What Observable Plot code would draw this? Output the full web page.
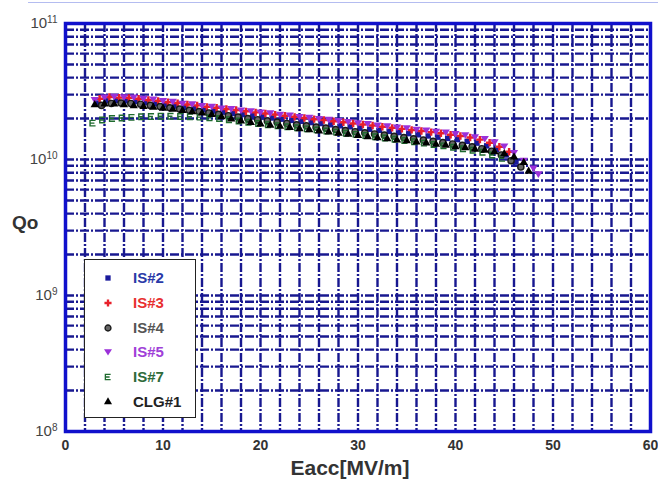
<!DOCTYPE html>
<html><head><meta charset="utf-8">
<script src="https://cdn.jsdelivr.net/npm/d3@7"></script>
<script src="https://cdn.jsdelivr.net/npm/@observablehq/plot@0.6"></script>
<style>
html,body{margin:0;padding:0;background:#fff;}
#wrap{position:relative;width:658px;height:487px;overflow:hidden;font-family:"Liberation Sans",Arial,sans-serif;}
#topline{position:absolute;left:28px;top:2px;width:630px;height:1px;background:#b4bcf0;}
#ytitle{position:absolute;left:12px;top:212px;font-weight:bold;font-size:19px;color:#333;}
#xtitle{position:absolute;left:0;width:700px;text-align:center;top:456px;font-weight:bold;font-size:21px;color:#333;}
#legend{position:absolute;left:84px;top:259px;width:112px;height:159px;background:#fff;border:1.5px solid #222;box-sizing:border-box;}
.row{position:absolute;left:0;height:20px;display:flex;align-items:center;}
.row svg{position:absolute;left:16px;top:3px;}
.row span{position:absolute;left:48px;top:1px;font-weight:bold;font-size:15px;white-space:nowrap;}
</style></head><body><div id="wrap"><div id="topline"></div></div>
<script>
// axes / ticks
const xTicks = [0, 10, 20, 30, 40, 50, 60];
const xGrid = [2, 4, 6, 8, 10, 12, 14, 16, 18, 20, 22, 24, 26, 28, 30, 32, 34, 36, 38, 40, 42, 44, 46, 48, 50, 52, 54, 56, 58];
const yTicks = [1e8, 1e9, 1e10, 1e11];
const yDecades = [1e8, 1e9, 1e10];
const yMinor = [1, 2, 3, 4, 5, 6, 7, 8, 9];

// series (Q in units of 1e10)
const seriesNames = ["IS#2", "IS#3", "IS#4", "IS#5", "IS#7", "CLG#1"];
const seriesColors = ["#1a1a9c", "#e8202a", "#3a3a3a", "#9b30d9", "#1f6b2f", "#000000"];
const legendColors = ["#2a3aa8", "#e83030", "#555555", "#a040d8", "#2e6b3a", "#222222"];

const is2E = [3.2,4.2,5.2,6.2,7.2,8.2,9.2,10.2,11.2,12.2,13.2,14.2,15.2,16.2,17.2,18.2,19.2,20.2,21.2,22.2,23.2,24.2,25.2,26.2,27.2,28.2,29.2,30.2,31.2,32.2,33.2,34.2,35.2,36.2,37.2,38.2,39.2,40.2,41.2,42.2,43.2,44.2,45.2,46.2];
const is2Q = [2.6,2.7,2.72,2.7,2.67,2.62,2.57,2.52,2.47,2.42,2.37,2.32,2.27,2.23,2.18,2.14,2.1,2.06,2.02,1.98,1.94,1.91,1.87,1.84,1.8,1.77,1.74,1.7,1.67,1.64,1.61,1.58,1.55,1.52,1.49,1.46,1.43,1.4,1.36,1.32,1.26,1.18,1.08,0.96];

const is3E = [3.5,4.5,5.5,6.5,7.5,8.5,9.5,10.5,11.5,12.5,13.5,14.5,15.5,16.5,17.5,18.5,19.5,20.5,21.5,22.5,23.5,24.5,25.5,26.5,27.5,28.5,29.5,30.5,31.5,32.5,33.5,34.5,35.5,36.5,37.5,38.5,39.5,40.5,41.5,42.5,43.5,44.5,45.5];
const is3Q = [2.8,2.88,2.85,2.84,2.8,2.74,2.7,2.64,2.6,2.54,2.5,2.44,2.4,2.35,2.31,2.26,2.22,2.18,2.14,2.1,2.06,2.02,1.98,1.95,1.91,1.88,1.84,1.81,1.78,1.74,1.71,1.68,1.65,1.62,1.59,1.56,1.52,1.49,1.45,1.4,1.33,1.24,1.14];

const is4E = [3.7,4.7,5.7,6.7,7.7,8.7,9.7,10.7,11.7,12.7,13.7,14.7,15.7,16.7,17.7,18.7,19.7,20.7,21.7,22.7,23.7,24.7,25.7,26.7,27.7,28.7,29.7,30.7,31.7,32.7,33.7,34.7,35.7,36.7,37.7,38.7,39.7,40.7,41.7,42.7,43.7,44.7,45.7,46.7];
const is4Q = [2.5,2.58,2.6,2.58,2.55,2.5,2.45,2.4,2.35,2.3,2.25,2.2,2.15,2.1,2.05,2.0,1.96,1.92,1.88,1.84,1.8,1.77,1.73,1.7,1.66,1.63,1.6,1.57,1.54,1.51,1.48,1.45,1.42,1.39,1.36,1.33,1.3,1.27,1.24,1.2,1.15,1.08,0.98,0.88];

const is5E = [3,4,5,6,7,8,9,10,11,12,13,14,15,16,17,18,19,20,21,22,23,24,25,26,27,28,29,30,31,32,33,34,35,36,37,38,39,40,41,42,43,44,45,46,47,48,48.5];
const is5Q = [2.74,2.86,2.9,2.87,2.86,2.8,2.77,2.7,2.66,2.58,2.55,2.48,2.45,2.38,2.36,2.3,2.27,2.22,2.19,2.14,2.11,2.06,2.03,1.99,1.96,1.92,1.89,1.85,1.83,1.78,1.76,1.72,1.7,1.66,1.64,1.6,1.58,1.54,1.51,1.46,1.42,1.34,1.25,1.12,0.98,0.86,0.78];

const is7E = [2.8,3.8,4.8,5.8,6.8,7.8,8.8,9.8,10.8,11.8,12.8,13.8,14.8,15.8,16.8,17.8,18.8,19.8,20.8,21.8,22.8,23.8,24.8,25.8,26.8,27.8,28.8,29.8,30.8,31.8,32.8,33.8,34.8,35.8,36.8,37.8,38.8,39.8,40.8,41.8,42.8,43.8,44.8];
const is7Q = [1.85,1.95,2.0,2.02,2.04,2.06,2.07,2.08,2.08,2.07,2.06,2.05,2.03,2.0,1.96,1.92,1.88,1.84,1.8,1.77,1.74,1.71,1.68,1.65,1.62,1.59,1.56,1.53,1.5,1.47,1.44,1.41,1.38,1.35,1.32,1.29,1.26,1.23,1.2,1.17,1.13,1.08,1.02];

const clgE = [3,4,5,6,7,8,9,10,11,12,13,14,15,16,17,18,19,20,21,22,23,24,25,26,27,28,29,30,31,32,33,34,35,36,37,38,39,40,41,42,43,44,45,46,47,47.5];
const clgQ = [2.52,2.56,2.55,2.52,2.48,2.45,2.42,2.38,2.34,2.29,2.24,2.19,2.14,2.06,1.98,1.92,1.87,1.82,1.78,1.75,1.72,1.68,1.65,1.62,1.59,1.56,1.53,1.5,1.47,1.44,1.42,1.39,1.37,1.34,1.32,1.29,1.27,1.24,1.22,1.19,1.17,1.14,1.1,1.04,0.95,0.82];

// custom symbols
const triDown = {draw(ctx, size) {
  const s = Math.sqrt(size) * 0.75;
  ctx.moveTo(-s, -s * 0.7); ctx.lineTo(s, -s * 0.7); ctx.lineTo(0, s * 0.9); ctx.closePath();
}};
const flag = {draw(ctx, size) {
  const s = Math.sqrt(size) * 0.5;
  ctx.moveTo(s, -s); ctx.lineTo(-s, -s); ctx.lineTo(-s, s); ctx.lineTo(s, s);
  ctx.moveTo(-s, 0); ctx.lineTo(s * 0.6, 0);
}};
const namedSymbols = {square: d3.symbolSquare, cross: d3.symbolCross, circle: d3.symbolCircle, triangle: d3.symbolTriangle};

const seriesE = [is2E, is3E, is4E, is5E, is7E, clgE];
const seriesQ = [is2Q, is3Q, is4Q, is5Q, is7Q, clgQ];
const symbols = ["square", "cross", "circle", triDown, flag, "triangle"];
const fills = [seriesColors[0], seriesColors[1], "#666", seriesColors[3], "none", seriesColors[5]];
const strokes = ["none", "none", "#1a1a1a", "none", seriesColors[4], "none"];

const tables = seriesE.map((E, i) => E.map((e, j) => ({E: e, Q: seriesQ[i][j] * 1e10})));

const gridColor = "#181890";
const yGrid = yDecades.flatMap(d => yMinor.map(m => d * m));

const marks = [
  Plot.ruleX(xGrid, {stroke: gridColor, strokeWidth: 2.4, strokeDasharray: "9,2,2,2"}),
  Plot.ruleY(yGrid, {stroke: gridColor, strokeWidth: 2.4, strokeDasharray: "9,2,2,2"}),
];
tables.forEach((t, i) => {
  marks.push(Plot.dot(t, {x: "E", y: "Q", symbol: symbols[i], r: 3.1,
    fill: fills[i], stroke: strokes[i], strokeWidth: strokes[i] === "none" ? 0 : 1.4}));
});
marks.push(Plot.frame({stroke: "#1010cc", strokeWidth: 3.5}));
marks.push(Plot.axisX({ticks: xTicks, tickSize: 0, tickPadding: 9, fontSize: 14, fontWeight: "bold", fill: "#333", label: null, tickFormat: d => String(d)}));
marks.push(Plot.axisY({ticks: yTicks, tickSize: 0, tickPadding: 8, fontSize: 15, fill: "#444", label: null, tickFormat: d => String(Math.round(Math.log10(d)))}));

const plot = Plot.plot({
  width: 658, height: 487,
  marginLeft: 65, marginRight: 8, marginTop: 23, marginBottom: 56,
  style: {background: "transparent", fontFamily: "Liberation Sans, Arial, sans-serif"},
  x: {domain: [0, 60]},
  y: {type: "log", domain: [1e8, 1e11]},
  marks
});
plot.style.position = "absolute";
plot.style.left = "0px";
plot.style.top = "0px";
const wrap = document.getElementById("wrap");
wrap.appendChild(plot);

// superscript exponents on y tick labels
d3.select(plot).selectAll('g[aria-label="y-axis tick label"] text').each(function() {
  const t = d3.select(this);
  const exp = t.text();
  t.text("10");
  t.append("tspan").attr("dy", "-0.55em").attr("font-size", "10px").text(exp);
});

// titles
const yt = document.createElement("div"); yt.id = "ytitle"; yt.textContent = "Qo"; wrap.appendChild(yt);
const xt = document.createElement("div"); xt.id = "xtitle"; xt.textContent = "Eacc[MV/m]"; wrap.appendChild(xt);

// legend
const legend = document.createElement("div"); legend.id = "legend";
seriesNames.forEach((name, i) => {
  const row = document.createElement("div"); row.className = "row";
  row.style.top = (8 + i * 24.8) + "px";
  const svg = d3.create("svg").attr("width", 14).attr("height", 14);
  const type = typeof symbols[i] === "string" ? namedSymbols[symbols[i]] : symbols[i];
  svg.append("path").attr("transform", "translate(7,7)")
    .attr("d", d3.symbol(type, 28)())
    .attr("fill", fills[i]).attr("stroke", strokes[i]).attr("stroke-width", strokes[i] === "none" ? 0 : 1.3);
  row.appendChild(svg.node());
  const sp = document.createElement("span"); sp.textContent = name; sp.style.color = legendColors[i];
  row.appendChild(sp);
  legend.appendChild(row);
});
wrap.appendChild(legend);
</script></body></html>
